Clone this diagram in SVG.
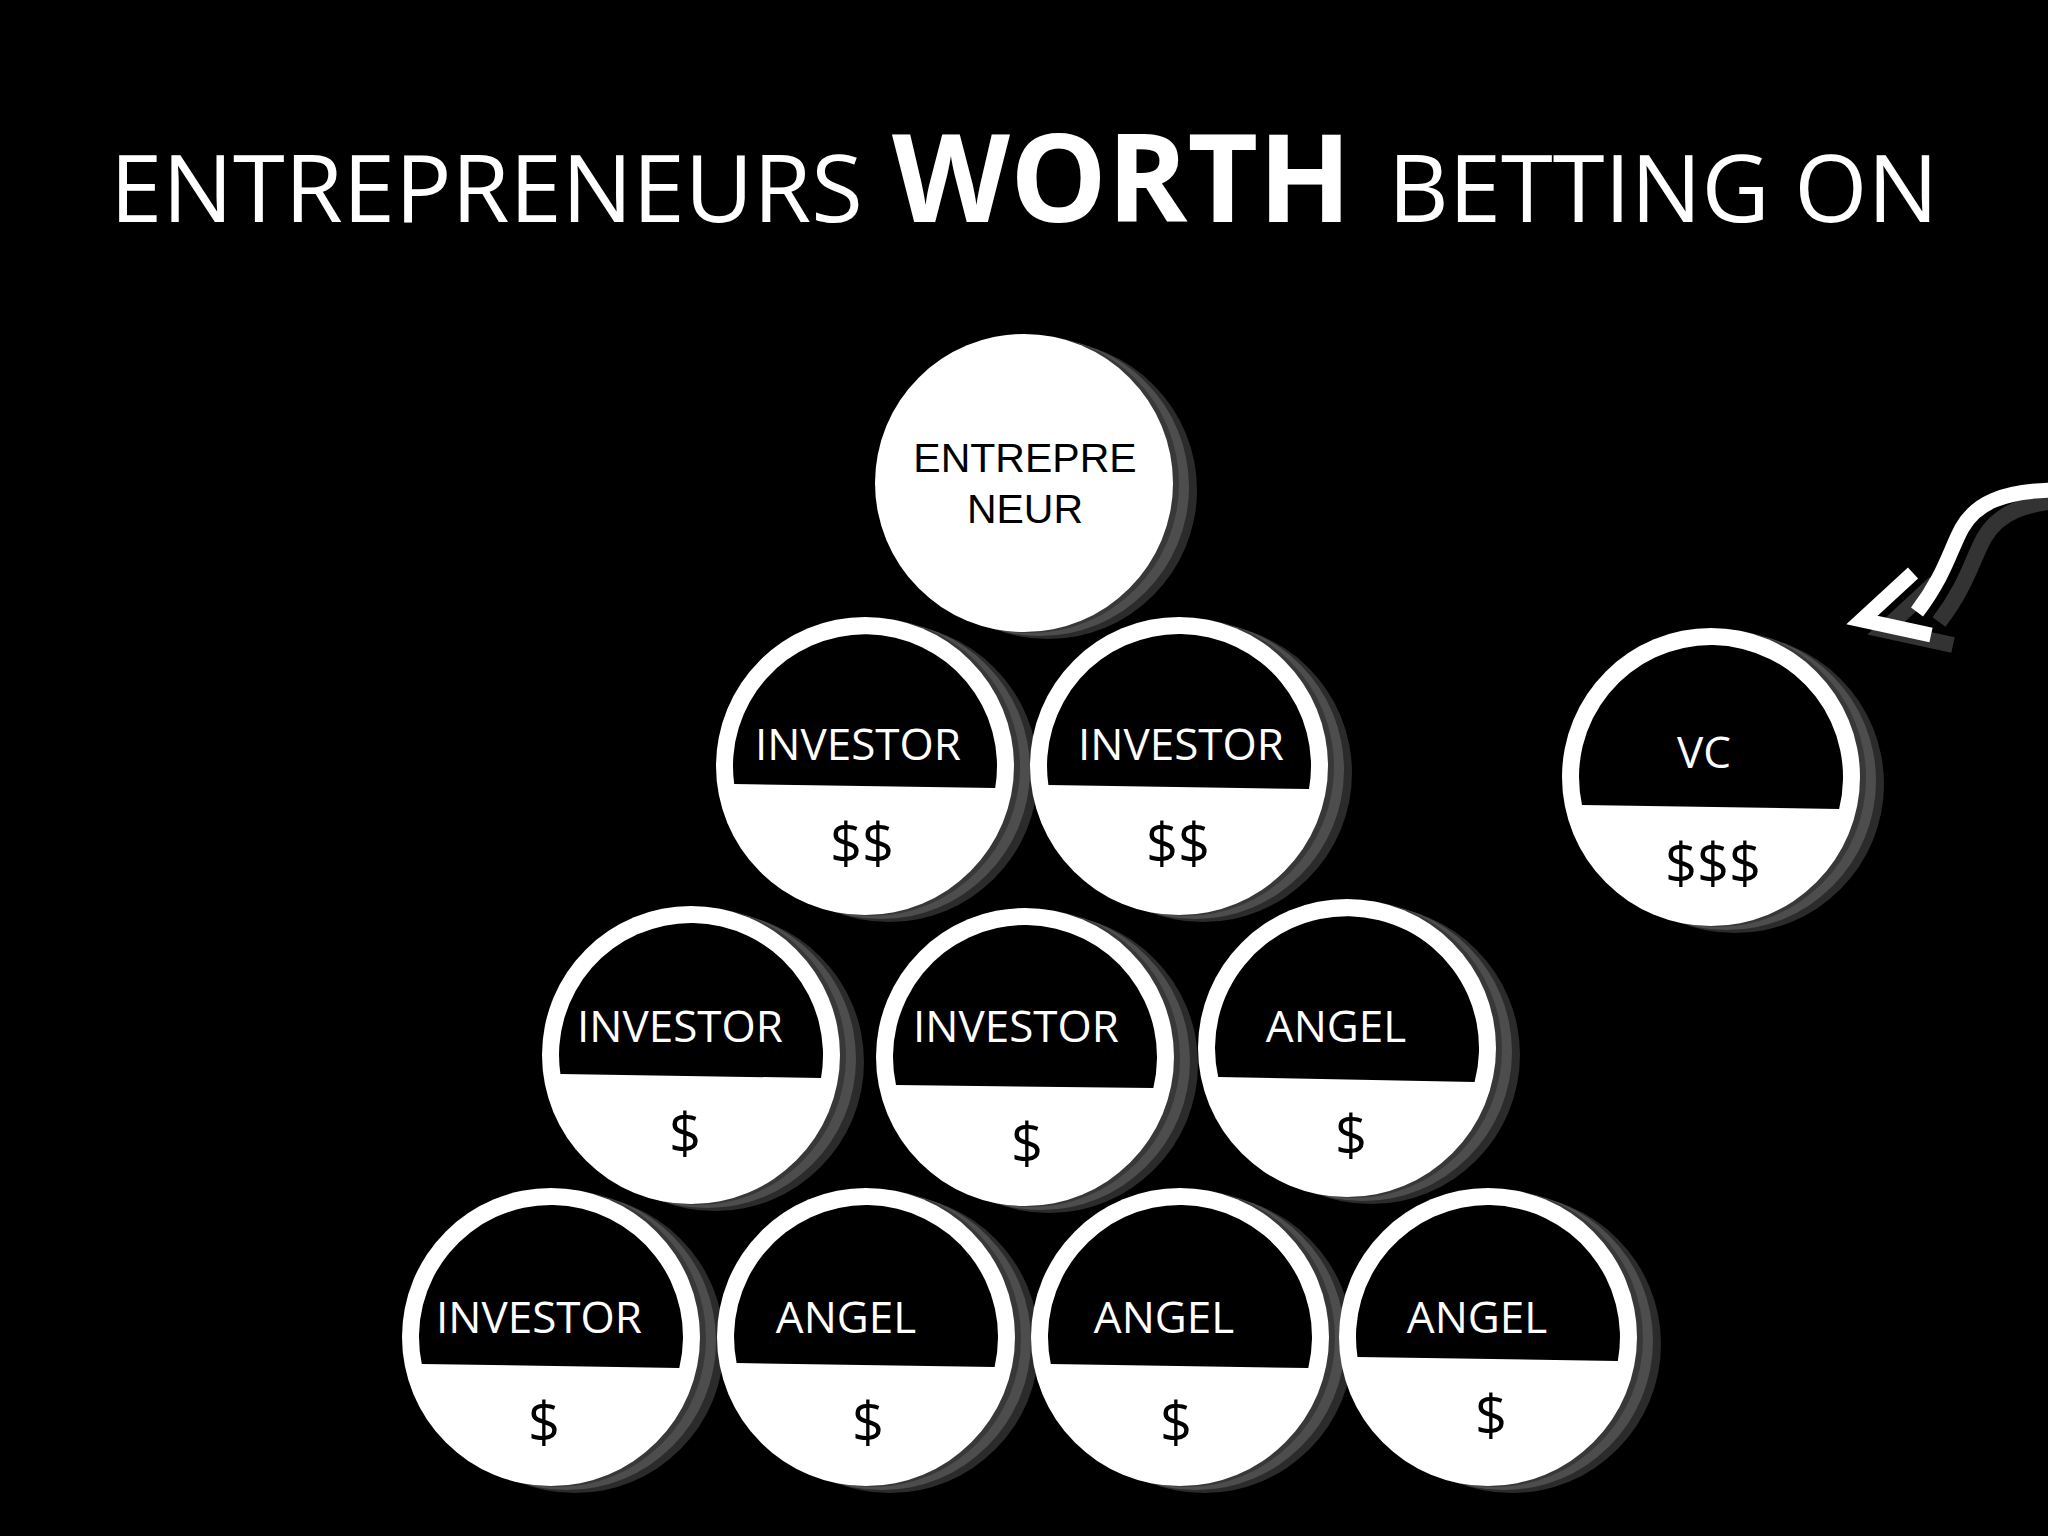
<svg xmlns="http://www.w3.org/2000/svg" xmlns:xlink="http://www.w3.org/1999/xlink" width="2048" height="1536" viewBox="0 0 2048 1536">
<style>
.bg{fill:#000}
.face{fill:#fff}
.sh1{fill:#2b2b2b}
.sh2{fill:#4d4d4d}
.sh3{fill:#383838}
.cap{fill:#000}
.lbl{font-family:'Open Sans','DejaVu Sans',sans-serif;font-size:44px;fill:#fff;text-anchor:middle}
.money{font-family:'Open Sans','DejaVu Sans',sans-serif;font-size:56px;fill:#000;text-anchor:middle}
.ent{font-family:'Liberation Sans',Arial,sans-serif;font-size:41px;fill:#000;text-anchor:middle}
.title{font-family:'Open Sans','DejaVu Sans',sans-serif;fill:#fff}
.arrow{fill:none;stroke:#fff;stroke-width:15;stroke-linejoin:miter;stroke-miterlimit:10}
.arrowsh{fill:none;stroke:#333;stroke-width:16;stroke-linejoin:miter;stroke-miterlimit:10}
</style>
<defs>
<g id="coinbase">
<circle class="sh1" cx="24" cy="7" r="149"/>
<circle class="sh2" cx="16" cy="4" r="149"/>
<circle class="sh3" cx="6" cy="1" r="149"/>
<circle class="face" cx="0" cy="0" r="149"/>
</g>
</defs>
<rect class="bg" x="0" y="0" width="2048" height="1536"/>

<g id="title">
<text class="title" y="222"><tspan x="110" font-size="94">ENTREPRENEURS</tspan><tspan x="892" font-size="122" font-weight="bold">WORTH</tspan><tspan x="1388" font-size="94">BETTING ON</tspan></text>
</g>

<g id="connectors">
<g transform="translate(22,10)">
<path class="arrowsh" d="M2060 490 C2000 490 1975 505 1962 528 C1950 550 1945 575 1917 612"/>
<path class="arrowsh" d="M1913 573 L1862 620 L1931 635"/>
</g>
<path class="arrow" d="M2060 490 C2000 490 1975 505 1962 528 C1950 550 1945 575 1917 612"/>
<path class="arrow" d="M1913 573 L1862 620 L1931 635"/>
</g>

<g id="coin-entrepreneur">
<use xlink:href="#coinbase" x="1024" y="483"/>
<text class="ent" x="1025" y="472">ENTREPRE</text>
<text class="ent" x="1025" y="523">NEUR</text>
</g>

<g id="coin-investor-r2-1">
<use xlink:href="#coinbase" x="865" y="766"/>
<path class="cap" d="M734.2 784 A132 132 0 1 1 995.2 788 Z"/>
<text class="lbl" x="858" y="760">INVESTOR</text>
<text class="money" x="862" y="864">$$</text>
</g>

<g id="coin-investor-r2-2">
<use xlink:href="#coinbase" x="1179" y="766"/>
<path class="cap" d="M1048.4 785 A132 132 0 1 1 1309 789 Z"/>
<text class="lbl" x="1181" y="760">INVESTOR</text>
<text class="money" x="1178" y="864">$$</text>
</g>

<g id="coin-vc">
<use xlink:href="#coinbase" x="1711" y="777"/>
<path class="cap" d="M1582 805 A132 132 0 1 1 1839.1 809 Z"/>
<text class="lbl" x="1704" y="768">VC</text>
<text class="money" x="1713" y="884">$$$</text>
</g>

<g id="coin-investor-r3-1">
<use xlink:href="#coinbase" x="691" y="1055"/>
<path class="cap" d="M560.4 1074 A132 132 0 1 1 821 1078 Z"/>
<text class="lbl" x="680" y="1042">INVESTOR</text>
<text class="money" x="685" y="1154">$</text>
</g>

<g id="coin-investor-r3-2">
<use xlink:href="#coinbase" x="1025" y="1057"/>
<path class="cap" d="M896 1085 A132 132 0 1 1 1153.3 1088 Z"/>
<text class="lbl" x="1016" y="1042">INVESTOR</text>
<text class="money" x="1027" y="1164">$</text>
</g>

<g id="coin-angel-r3-3">
<use xlink:href="#coinbase" x="1347" y="1048"/>
<path class="cap" d="M1218.2 1077 A132 132 0 1 1 1474.6 1082 Z"/>
<text class="lbl" x="1336" y="1042">ANGEL</text>
<text class="money" x="1351" y="1156">$</text>
</g>

<g id="coin-investor-r4-1">
<use xlink:href="#coinbase" x="551" y="1337"/>
<path class="cap" d="M421.8 1364 A132 132 0 1 1 679.3 1368 Z"/>
<text class="lbl" x="539" y="1333">INVESTOR</text>
<text class="money" x="544" y="1443">$</text>
</g>

<g id="coin-angel-r4-2">
<use xlink:href="#coinbase" x="866" y="1337"/>
<path class="cap" d="M736.6 1363 A132 132 0 1 1 994.6 1367 Z"/>
<text class="lbl" x="846" y="1333">ANGEL</text>
<text class="money" x="868" y="1443">$</text>
</g>

<g id="coin-angel-r4-3">
<use xlink:href="#coinbase" x="1180" y="1337"/>
<path class="cap" d="M1050.8 1364 A132 132 0 1 1 1308.3 1368 Z"/>
<text class="lbl" x="1164" y="1333">ANGEL</text>
<text class="money" x="1176" y="1443">$</text>
</g>

<g id="coin-angel-r4-4">
<use xlink:href="#coinbase" x="1488" y="1337"/>
<path class="cap" d="M1357.5 1357 A132 132 0 1 1 1617.8 1361 Z"/>
<text class="lbl" x="1477" y="1333">ANGEL</text>
<text class="money" x="1491" y="1436">$</text>
</g>
</svg>
